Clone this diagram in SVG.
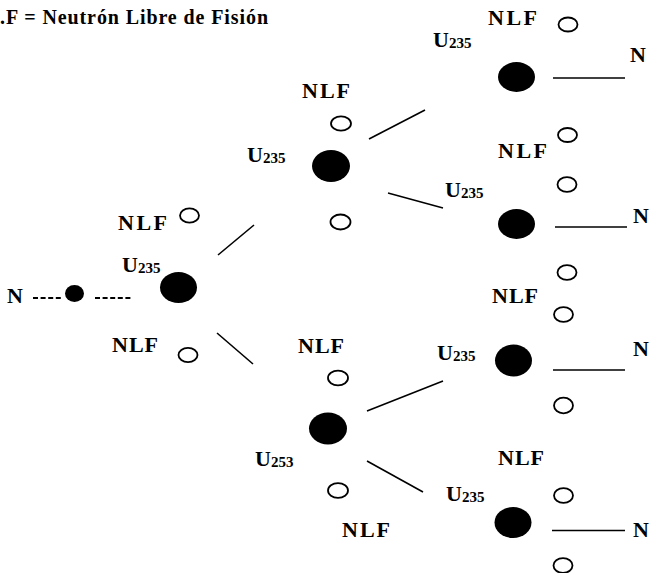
<svg xmlns="http://www.w3.org/2000/svg" width="652" height="573" viewBox="0 0 652 573">
<style>
text{font-family:"Liberation Serif","Times New Roman",serif;font-weight:bold;fill:#000}
.lbl{font-size:22px}
.sub{font-size:15px}
.u{fill:#000;stroke:none}
.nlf{fill:#fff;stroke:#000;stroke-width:1.8}
.ln{stroke:#000;stroke-width:1.6;fill:none}
.dash{stroke:#000;stroke-width:2;stroke-dasharray:5 2.6;fill:none}
</style>
<rect width="652" height="573" fill="#fff"/>
<text id="title" x="0" y="24" font-size="20" textLength="268" lengthAdjust="spacing">.F = Neutrón Libre de Fisión</text>

<g id="connectors">
  <line class="dash" x1="33" y1="298" x2="63" y2="298"/>
  <line class="dash" x1="95" y1="298" x2="133" y2="298"/>
  <line class="ln" x1="218" y1="255" x2="254" y2="225"/>
  <line class="ln" x1="217" y1="333" x2="253" y2="364"/>
  <line class="ln" x1="369" y1="139" x2="425" y2="110"/>
  <line class="ln" x1="388" y1="193" x2="443" y2="208"/>
  <line class="ln" x1="367" y1="411" x2="443" y2="381"/>
  <line class="ln" x1="367" y1="461" x2="423" y2="492"/>
  <line class="ln" x1="553" y1="78" x2="625" y2="78"/>
  <line class="ln" x1="555" y1="227" x2="627" y2="227"/>
  <line class="ln" x1="553" y1="370" x2="625" y2="370"/>
  <line class="ln" x1="552" y1="530.5" x2="625" y2="530.5"/>
</g>

<g id="source">
  <text class="lbl" x="7" y="303">N</text>
  <ellipse class="u" cx="74.5" cy="293.5" rx="9.5" ry="8.5"/>
</g>

<g id="u1">
  <ellipse class="u" cx="178.5" cy="287.5" rx="18.5" ry="15.5"/>
  <text class="lbl" x="122" y="272">U<tspan class="sub" dy="1">235</tspan></text>
  <text class="lbl" x="118" y="230" textLength="49" lengthAdjust="spacing">NLF</text>
  <ellipse class="nlf" cx="189.5" cy="215.5" rx="9.5" ry="7.2"/>
  <text class="lbl" x="112" y="352" textLength="46" lengthAdjust="spacing">NLF</text>
  <ellipse class="nlf" cx="188" cy="355" rx="9.5" ry="7.2"/>
</g>

<g id="u2a">
  <ellipse class="u" cx="331" cy="166" rx="19" ry="16"/>
  <text class="lbl" x="247" y="162">U<tspan class="sub" dy="1">235</tspan></text>
  <text class="lbl" x="302" y="98" textLength="48" lengthAdjust="spacing">NLF</text>
  <ellipse class="nlf" cx="341" cy="123.5" rx="10" ry="7.2"/>
  <ellipse class="nlf" cx="340.5" cy="222" rx="10" ry="7.5"/>
</g>

<g id="u2b">
  <ellipse class="u" cx="328" cy="428.5" rx="19" ry="16"/>
  <text class="lbl" x="255" y="466">U<tspan class="sub" dy="1">253</tspan></text>
  <text class="lbl" x="298" y="353" textLength="46" lengthAdjust="spacing">NLF</text>
  <ellipse class="nlf" cx="338" cy="378" rx="10" ry="7.3"/>
  <ellipse class="nlf" cx="338" cy="490.5" rx="10" ry="7.3"/>
  <text class="lbl" x="342" y="537" textLength="48" lengthAdjust="spacing">NLF</text>
</g>

<g id="u3a">
  <ellipse class="u" cx="516.5" cy="77" rx="18.5" ry="15"/>
  <text class="lbl" x="433" y="47">U<tspan class="sub" dy="1">235</tspan></text>
  <text class="lbl" x="488" y="25" textLength="49" lengthAdjust="spacing">NLF</text>
  <ellipse class="nlf" cx="568" cy="24.5" rx="9.5" ry="7"/>
  <text class="lbl" x="630" y="62">N</text>
  <ellipse class="nlf" cx="567.5" cy="135" rx="9.5" ry="7"/>
</g>

<g id="u3b">
  <ellipse class="u" cx="516.5" cy="224" rx="18.5" ry="15"/>
  <text class="lbl" x="445" y="197">U<tspan class="sub" dy="1">235</tspan></text>
  <text class="lbl" x="498" y="158" textLength="49" lengthAdjust="spacing">NLF</text>
  <ellipse class="nlf" cx="567" cy="184.5" rx="9.5" ry="7.3"/>
  <text class="lbl" x="633" y="223">N</text>
  <ellipse class="nlf" cx="567" cy="272.5" rx="9.5" ry="7.3"/>
</g>

<g id="u3c">
  <ellipse class="u" cx="513.5" cy="360.5" rx="18.5" ry="16"/>
  <text class="lbl" x="437" y="360">U<tspan class="sub" dy="1">235</tspan></text>
  <text class="lbl" x="492" y="303" textLength="46" lengthAdjust="spacing">NLF</text>
  <ellipse class="nlf" cx="563.5" cy="314.5" rx="9.5" ry="7.3"/>
  <text class="lbl" x="633" y="356">N</text>
  <ellipse class="nlf" cx="563.5" cy="405.5" rx="9.5" ry="7.8"/>
</g>

<g id="u3d">
  <ellipse class="u" cx="513" cy="522.5" rx="18.5" ry="15.5"/>
  <text class="lbl" x="446" y="501">U<tspan class="sub" dy="1">235</tspan></text>
  <text class="lbl" x="498" y="465" textLength="46" lengthAdjust="spacing">NLF</text>
  <ellipse class="nlf" cx="563.5" cy="495.5" rx="9.5" ry="7.3"/>
  <text class="lbl" x="633" y="537">N</text>
  <ellipse class="nlf" cx="563" cy="565.5" rx="9.5" ry="7.3"/>
</g>
</svg>
